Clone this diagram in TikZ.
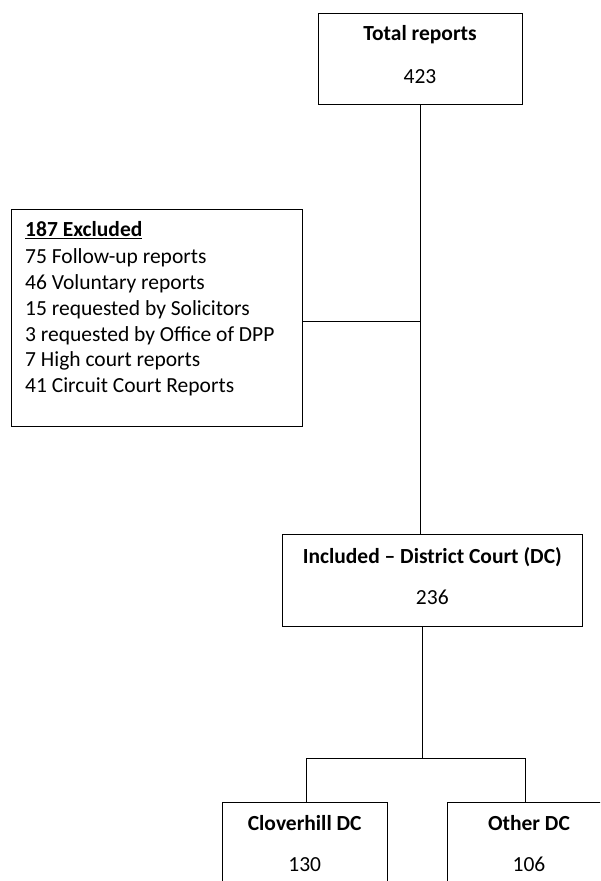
\documentclass[tikz,border=0pt]{standalone}
\usepackage{fontspec}
\setmainfont{Carlito}
\begin{document}
\begin{tikzpicture}[x=1pt,y=-1pt,
  box/.style={draw, line width=0.9pt, rectangle, inner sep=0pt, anchor=north west},
  lbl/.style={anchor=base, inner sep=0pt, font=\fontsize{21.5}{25.9}\selectfont},
  hdr/.style={lbl, font=\fontsize{21.5}{25.9}\selectfont\bfseries},
  item/.style={lbl, anchor=base west},
  link/.style={draw, line width=0.9pt}]
\useasboundingbox (0,0) rectangle (600,881);
\clip (0,0) rectangle (600,881);
% boxes
\node[box, minimum width=204.6pt, minimum height=90.6pt] (total) at (317.7,13) {};
\node[box, minimum width=291pt, minimum height=217pt] (excl) at (11,209) {};
\node[box, minimum width=300pt, minimum height=91.4pt] (incl) at (282.3,534.3) {};
\node[box, minimum width=164.7pt, minimum height=120pt] (clo) at (222.3,802.3) {};
\node[box, minimum width=164.6pt, minimum height=120pt] (oth) at (446.7,801.7) {};
% texts
\node[hdr] (totalT) at (420,40.7) {Total reports};
\node[lbl] (totalN) at (420,83.3) {423};
\node[item, font=\fontsize{21.5}{25.9}\selectfont\bfseries] (ex0) at (25,236.7) {\underline{187 Excluded}};
\node[item] (ex1) at (25,263.0) {75 Follow-up reports};
\node[item] (ex2) at (25,289.0) {46 Voluntary reports};
\node[item] (ex3) at (25,315.0) {15 requested by Solicitors};
\node[item] (ex4) at (25,341.0) {3 requested by Office of DPP};
\node[item] (ex5) at (25,366.7) {7 High court reports};
\node[item] (ex6) at (25,392.7) {41 Circuit Court Reports};
\node[hdr] (inclT) at (432.3,563.3) {Included -- District Court (DC)};
\node[lbl] (inclN) at (432.3,604.3) {236};
\node[hdr] (cloT) at (304.7,830) {Cloverhill DC};
\node[lbl] (cloN) at (304.7,871.7) {130};
\node[hdr] (othT) at (529,830) {Other DC};
\node[lbl] (othN) at (529,871.7) {106};
% connectors
\coordinate (j1) at (420,321.7);
\coordinate (j2) at (422.7,758.3);
\coordinate (j3) at (306,758.3);
\coordinate (j4) at (525,758.3);
\draw[link] (total.south) -- (total.south |- incl.north);
\draw[link] (excl.east |- j1) -- (j1);
\draw[link] (j2 |- incl.south) -- (j2);
\draw[link] (j3) -- (j4);
\draw[link] (j3) -- (j3 |- clo.north);
\draw[link] (j4) -- (j4 |- oth.north);
\end{tikzpicture}
\end{document}
